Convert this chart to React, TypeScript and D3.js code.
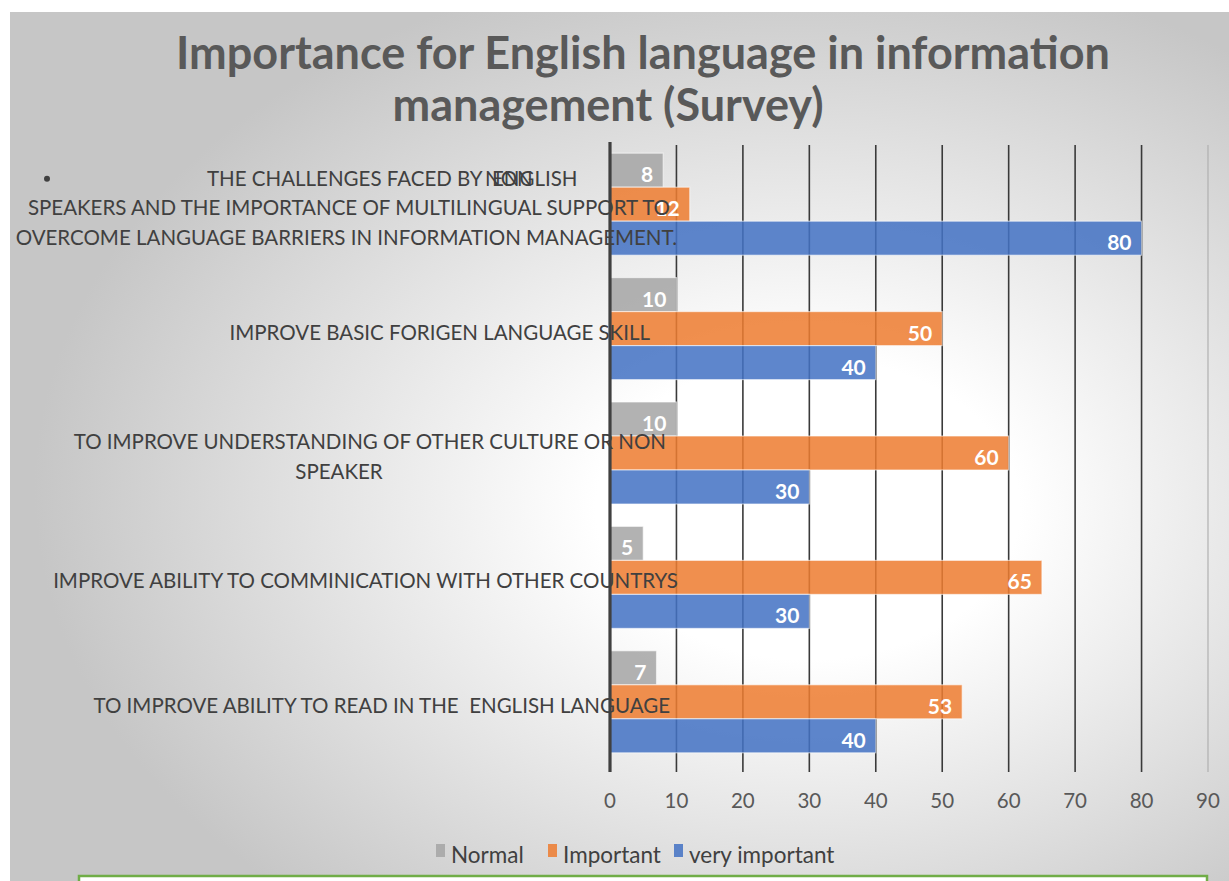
import React from 'react';
import * as d3 from 'd3';

const categories = [
  'CHALLENGES',
  'BASIC SKILL',
  'CULTURE',
  'COMMUNICATION',
  'READ',
];

const categoryLines: string[][] = [
  ['THE CHALLENGES FACED BY', 'SPEAKERS AND THE IMPORTANCE OF MULTILINGUAL SUPPORT TO', 'OVERCOME LANGUAGE BARRIERS IN INFORMATION MANAGEMENT.'],
  ['IMPROVE BASIC FORIGEN LANGUAGE SKILL'],
  ['TO IMPROVE UNDERSTANDING OF OTHER CULTURE OR NON', 'SPEAKER'],
  ['IMPROVE ABILITY TO COMMINICATION WITH OTHER COUNTRYS'],
  ['TO IMPROVE ABILITY TO READ IN THE  ENGLISH LANGUAGE'],
];

const seriesNames = ['Normal', 'Important', 'very important'];
const normalValues = [8, 10, 10, 5, 7];
const importantValues = [12, 50, 60, 65, 53];
const veryImportantValues = [80, 40, 30, 30, 40];
const xTicks = [0, 10, 20, 30, 40, 50, 60, 70, 80, 90];

const colors = ['#a5a5a5', '#ed7d31', '#4472c4'];
const FONT = "Lato, 'Open Sans', sans-serif";

const W = 1229;
const H = 881;

const App: React.FC = () => {
  const values = [normalValues, importantValues, veryImportantValues];

  const x = d3.scaleLinear().domain([0, 90]).range([610, 1208]);
  const y = d3.scaleBand<string>()
    .domain(categories)
    .range([142, 764])
    .paddingInner(0.18)
    .paddingOuter(0.09);
  const ySeries = d3.scaleBand<string>()
    .domain(seriesNames)
    .range([0, y.bandwidth()]);

  // label layout: anchor and x for each line (the source chart overlaps text with the axis)
  const labelLayout: { anchor: string; x: number }[][] = [
    [{ anchor: 'start', x: 207 }, { anchor: 'end', x: 670 }, { anchor: 'end', x: 677 }],
    [{ anchor: 'end', x: 650 }],
    [{ anchor: 'end', x: 666 }, { anchor: 'middle', x: 339 }],
    [{ anchor: 'end', x: 678 }],
    [{ anchor: 'end', x: 670 }],
  ];
  const lineH = 29.5;

  const plotTop = 145;
  const plotBottom = 764;

  return (
    <svg width={W} height={H} style={{ position: 'absolute', left: 0, top: 0 }} fontFamily={FONT}>
      <defs>
        <radialGradient id="bg" cx="0.64" cy="0.55" r="0.62" fx="0.66" fy="0.58">
          <stop offset="0" stopColor="#ffffff" />
          <stop offset="0.28" stopColor="#ffffff" />
          <stop offset="1" stopColor="#c6c6c6" />
        </radialGradient>
      </defs>
      <rect x={0} y={0} width={W} height={H} fill="#ffffff" />
      <rect x={10} y={12} width={W - 10} height={H - 12} fill="url(#bg)" />

      <text x={643} y={69} textAnchor="middle" fontSize={45} fontWeight="bold" fill="#595959">
        Importance for English language in information
      </text>
      <text x={608} y={121} textAnchor="middle" fontSize={45} fontWeight="bold" fill="#595959">
        management (Survey)
      </text>

      {/* gridlines */}
      {xTicks.slice(1).map(t => (
        <line key={t} x1={x(t)} x2={x(t)} y1={plotTop} y2={plotBottom + 8}
          stroke={t === 90 ? '#b0b0b0' : '#3a3a3a'} strokeWidth={t === 90 ? 1.2 : 1.6} />
      ))}

      {/* bars */}
      {categories.map((c, ci) => (
        <g key={c}>
          {seriesNames.map((s, si) => {
            const v = values[si][ci];
            const by = (y(c) ?? 0) + (ySeries(s) ?? 0);
            const bh = ySeries.bandwidth();
            return (
              <g key={s}>
                <rect x={x(0)} y={by} width={x(v) - x(0)} height={bh}
                  fill={colors[si]} fillOpacity={0.86} stroke="#ffffff" strokeOpacity={0.55} strokeWidth={1.2} />
                <text x={x(v) - 10} y={by + bh / 2 + 12} textAnchor="end" fontSize={21}
                  fontWeight="bold" fill="#ffffff">{v}</text>
              </g>
            );
          })}
        </g>
      ))}

      {/* axis line */}
      <line x1={x(0)} x2={x(0)} y1={142} y2={plotBottom + 8} stroke="#404040" strokeWidth={3.2} />

      {/* tick labels */}
      {xTicks.map(t => (
        <text key={t} x={x(t)} y={808} textAnchor="middle" fontSize={20.5} fill="#595959">{t}</text>
      ))}

      {/* category labels */}
      {categories.map((c, ci) => {
        const lines = categoryLines[ci];
        const cy = (y(c) ?? 0) + y.bandwidth() / 2 + 4;
        const start = cy - ((lines.length - 1) * lineH) / 2 + 7;
        return (
          <g key={c} fontSize={20.5} fill="#404040">
            {lines.map((ln, li) => (
              <text key={li} x={labelLayout[ci][li].x} y={start + li * lineH}
                textAnchor={labelLayout[ci][li].anchor as any} style={{ whiteSpace: 'pre' }}>{ln}</text>
            ))}
            {ci === 0 && (
              <>
                <circle cx={47} cy={start - 7} r={3} fill="#404040" />
                <text x={485} y={start}>NON</text>
                <text x={492} y={start}>ENGLISH</text>
              </>
            )}
          </g>
        );
      })}

      {/* legend */}
      {seriesNames.map((s, i) => {
        const lx = [436, 548, 674][i];
        return (
          <g key={s}>
            <rect x={lx} y={844} width={9} height={13} fill={colors[i]} fillOpacity={0.86} />
            <text x={lx + 15} y={863} fontSize={22.5} fill="#404040">{s}</text>
          </g>
        );
      })}

      <rect x={79} y={876} width={1128} height={20} fill="#ffffff" stroke="#70ad47" strokeWidth={2.5} />
    </svg>
  );
};

export default App;
